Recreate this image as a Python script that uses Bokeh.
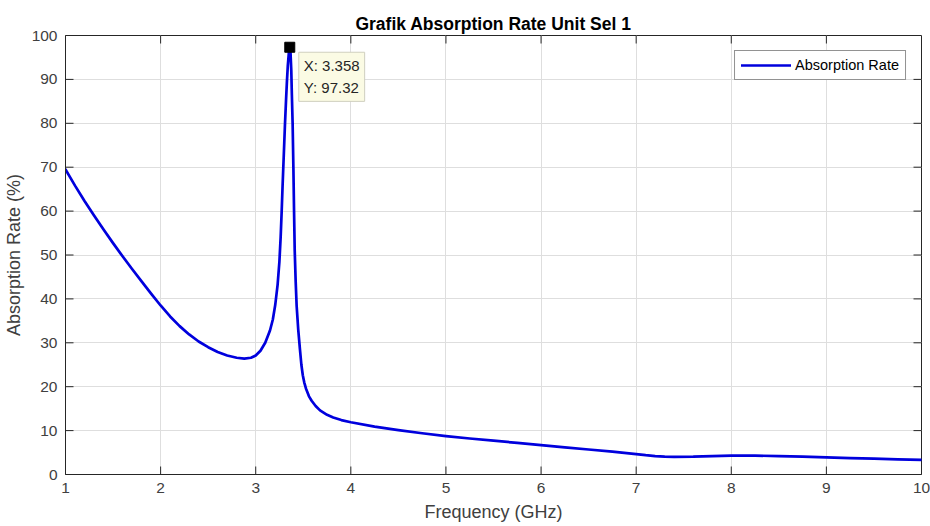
from bokeh.plotting import figure
from bokeh.models import (Range1d, FixedTicker, Legend, LegendItem,
                          Label, ColumnDataSource)
from bokeh.embed import file_html
from bokeh.resources import INLINE

# ---- data ----
freq_ghz = [1.0, 1.1, 1.2, 1.3, 1.4, 1.5, 1.6, 1.7, 1.8, 1.9, 2.0, 2.1, 2.2, 2.3,
            2.4, 2.5, 2.6, 2.7, 2.8, 2.88, 2.95, 3.0, 3.05, 3.1, 3.15, 3.18,
            3.205, 3.23, 3.249, 3.262, 3.273, 3.282, 3.29, 3.3, 3.308, 3.319,
            3.328, 3.337, 3.348, 3.358, 3.366, 3.374, 3.38, 3.388, 3.396, 3.403,
            3.41, 3.42, 3.43, 3.447, 3.465, 3.48, 3.495, 3.51, 3.528, 3.56,
            3.588, 3.63, 3.676, 3.75, 3.815, 3.9, 4.0, 4.25, 4.5, 4.75, 5.0,
            5.25, 5.5, 5.75, 6.0, 6.25, 6.5, 6.75, 7.0, 7.1, 7.2, 7.3, 7.4, 7.6,
            7.8, 8.0, 8.25, 8.5, 8.75, 9.0, 9.25, 9.5, 9.75, 10.0]
absorption = [69.5, 65.8, 62.3, 59.0, 55.8, 52.7, 49.7, 46.8, 44.0, 41.2, 38.5, 36.0,
              33.8, 31.9, 30.3, 29.0, 27.9, 27.1, 26.6, 26.4, 26.6, 27.1, 28.2, 30.0,
              32.8, 35.3, 38.6, 43.2, 48.5, 54.0, 60.0, 65.5, 70.0, 75.5, 80.0,
              85.4, 89.5, 93.0, 96.0, 97.32, 96.0, 92.0, 86.5, 80.0, 70.0, 60.0,
              51.0, 44.0, 38.5, 33.0, 28.5, 25.0, 22.6, 21.0, 19.6, 17.8,
              16.8, 15.6, 14.6, 13.6, 13.0, 12.4, 11.9, 10.9, 10.1, 9.4, 8.75,
              8.2, 7.7, 7.2, 6.7, 6.2, 5.7, 5.2, 4.65, 4.4, 4.2, 4.05, 4.0, 4.05,
              4.2, 4.3, 4.3, 4.2, 4.05, 3.9, 3.75, 3.6, 3.45, 3.35]
peak_x = [3.358]
peak_y = [97.32]
x_ticks = [1, 2, 3, 4, 5, 6, 7, 8, 9, 10]
y_ticks = [0, 10, 20, 30, 40, 50, 60, 70, 80, 90, 100]
x_lim = (1, 10)
y_lim = (0, 100)

TXT = "#262626"
LBL = "#404040"
FONT = "Liberation Sans"

W, H = 930, 526
BL, BR, BT, BB = 65, 9, 35, 52
TICK_LEN = 8  # pixels

p = figure(width=W, height=H, output_backend="svg", toolbar_location=None,
           x_range=Range1d(*x_lim), y_range=Range1d(*y_lim),
           min_border_left=BL, min_border_right=BR, min_border_top=BT,
           min_border_bottom=BB, background_fill_color="white",
           border_fill_color="white")

p.title.text = "Grafik Absorption Rate Unit Sel 1"
p.title.align = "center"
p.title.text_font = FONT
p.title.text_font_size = "17.5px"
p.title.text_font_style = "bold"
p.title.text_color = "black"
p.title.standoff = 3

p.outline_line_color = TXT
p.outline_line_width = 1

for ax in (p.xaxis[0], p.yaxis[0]):
    ax.major_tick_in = 0
    ax.major_tick_out = 0
    ax.minor_tick_in = 0
    ax.minor_tick_out = 0
    ax.axis_line_color = TXT
    ax.major_label_text_font = FONT
    ax.major_label_text_font_size = "15.5px"
    ax.major_label_text_color = LBL
    ax.axis_label_text_font = FONT
    ax.axis_label_text_font_size = "18px"
    ax.axis_label_text_font_style = "normal"
    ax.axis_label_text_color = LBL
    ax.major_label_standoff = 8

p.xaxis[0].ticker = FixedTicker(ticks=x_ticks)
p.yaxis[0].ticker = FixedTicker(ticks=y_ticks)
p.xaxis[0].axis_label = "Frequency (GHz)"
p.yaxis[0].axis_label = "Absorption Rate (%)"
p.xaxis[0].axis_label_standoff = 6
p.yaxis[0].axis_label_standoff = 5

p.xgrid.ticker = FixedTicker(ticks=x_ticks)
p.ygrid.ticker = FixedTicker(ticks=y_ticks)
p.grid.grid_line_color = "#dedede"
p.grid.grid_line_width = 1

src = ColumnDataSource(dict(x=freq_ghz, y=absorption))
line = p.line("x", "y", source=src, line_color="#0000dd", line_width=2.7,
              line_join="round", line_cap="round")

# inward tick marks on all four sides of the box
dx = TICK_LEN * (x_lim[1] - x_lim[0]) / (W - BL - BR)
dy = TICK_LEN * (y_lim[1] - y_lim[0]) / (H - BT - BB)
inner_x = x_ticks[1:-1]
inner_y = y_ticks[1:-1]
n = len(inner_x)
p.segment(x0=inner_x, y0=[y_lim[0]] * n, x1=inner_x, y1=[y_lim[0] + dy] * n,
          line_color=TXT, line_width=1)
p.segment(x0=inner_x, y0=[y_lim[1]] * n, x1=inner_x, y1=[y_lim[1] - dy] * n,
          line_color=TXT, line_width=1)
m = len(inner_y)
p.segment(x0=[x_lim[0]] * m, y0=inner_y, x1=[x_lim[0] + dx] * m, y1=inner_y,
          line_color=TXT, line_width=1)
p.segment(x0=[x_lim[1]] * m, y0=inner_y, x1=[x_lim[1] - dx] * m, y1=inner_y,
          line_color=TXT, line_width=1)

p.scatter(peak_x, peak_y, marker="square", size=10, fill_color="black",
          line_color="black")

tip = Label(x=peak_x[0], y=peak_y[0], x_offset=9, y_offset=-5,
            text="X: %.3f\nY: %.2f" % (peak_x[0], peak_y[0]),
            anchor="top_left", text_font=FONT, text_font_size="15px",
            text_color="#262626", background_fill_color="#fbfbe4",
            border_line_color="#cfcfbf", border_line_width=1, padding=5,
            text_line_height=1.3)
p.add_layout(tip)

legend = Legend(items=[LegendItem(label="Absorption Rate", renderers=[line])],
                location="top_right", margin=15, padding=6, spacing=0,
                glyph_width=50, glyph_height=14, label_standoff=4,
                label_text_font=FONT, label_text_font_size="14.5px",
                label_text_color="black", border_line_color=TXT,
                border_line_width=1, background_fill_color="white",
                background_fill_alpha=1)
p.add_layout(legend)

open("out.html", "w").write(file_html(p, INLINE))
